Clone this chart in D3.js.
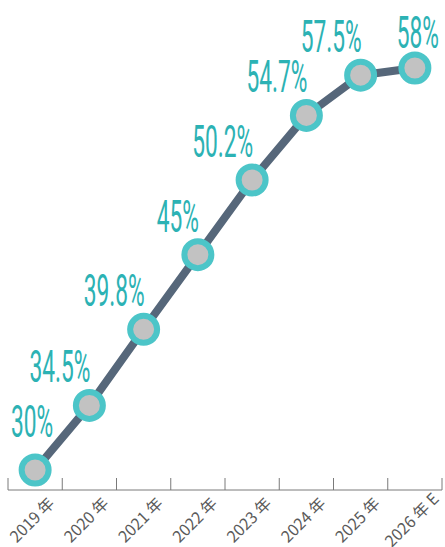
<!DOCTYPE html>
<html>
<head>
<meta charset="utf-8">
<script src="https://cdn.jsdelivr.net/npm/d3@7"></script>
<style>
  html, body { margin: 0; padding: 0; background: #fff; }
  svg { display: block; }
</style>
</head>
<body>
<svg id="chart" width="445" height="547"></svg>
<script>
const years = ["2019 年", "2020 年", "2021 年", "2022 年", "2023 年", "2024 年", "2025 年", "2026 年 E"];
const values = [30, 34.5, 39.8, 45, 50.2, 54.7, 57.5, 58];
const valueLabels = ["30%", "34.5%", "39.8%", "45%", "50.2%", "54.7%", "57.5%", "58%"];

const svg = d3.select("#chart");
const x = d3.scaleBand().domain(years).range([8, 442]).padding(0);
const y = d3.scaleLinear().domain([30, 58]).range([470, 68]);
const cx = d => x(d) + x.bandwidth() / 2;
const axisY = 490;

// axis line and boundary ticks
const axisG = svg.append("g").attr("class", "axis");
axisG.append("line")
  .attr("x1", x.range()[0]).attr("x2", x.range()[1])
  .attr("y1", axisY).attr("y2", axisY)
  .attr("stroke", "#7a7a7a").attr("stroke-width", 1);
const bounds = years.map(d => x(d)).concat([x.range()[1]]);
axisG.selectAll("line.tick").data(bounds).join("line")
  .attr("class", "tick")
  .attr("x1", d => d).attr("x2", d => d)
  .attr("y1", axisY - 12).attr("y2", axisY)
  .attr("stroke", "#7a7a7a").attr("stroke-width", 1);

axisG.selectAll("text.year").data(years).join("text")
  .attr("class", "year")
  .attr("text-anchor", "middle")
  .attr("transform", d => `translate(${cx(d) + 1},${axisY + 34}) rotate(-45)`)
  .attr("font-family", "'Noto Sans CJK SC', 'Noto Sans', sans-serif")
  .attr("font-size", 16)
  .attr("font-weight", 400)
  .attr("fill", "#5a5a5a")
  .text(d => d);

// line
const pts = years.map((d, i) => [cx(d), y(values[i])]);
svg.append("path")
  .attr("d", d3.line()(pts))
  .attr("fill", "none")
  .attr("stroke", "#56677a")
  .attr("stroke-width", 8)
  .attr("stroke-linejoin", "round");

// markers
svg.selectAll("circle.pt").data(pts).join("circle")
  .attr("class", "pt")
  .attr("cx", d => d[0]).attr("cy", d => d[1])
  .attr("r", 13.5)
  .attr("fill", "#c2c2c2")
  .attr("stroke", "#4cc5c8")
  .attr("stroke-width", 6);

// value labels (tall condensed look: horizontally squeezed font)
const n = years.length;
const labelFont = "Roboto, 'Liberation Sans', sans-serif";
const labelSize = 45;
const probe = svg.append("text")
  .attr("font-family", labelFont).attr("font-size", labelSize).attr("font-weight", 400)
  .text(valueLabels[1]);
const probeW = probe.node().getComputedTextLength();
probe.remove();
const squeeze = 61 / probeW;

svg.selectAll("text.val").data(valueLabels).join("text")
  .attr("class", "val")
  .attr("text-anchor", (d, i) => (i === 0 || i === n - 1) ? "middle" : "end")
  .attr("transform", (d, i) => {
    const px = pts[i][0], py = pts[i][1];
    let tx, ty;
    if (i === 0) { tx = px - 3; ty = py - 33; }
    else if (i === n - 1) { tx = px + 3; ty = py - 20; }
    else { tx = px + 1; ty = py - 23; }
    return `translate(${tx},${ty}) scale(${squeeze},1)`;
  })
  .attr("font-family", labelFont)
  .attr("font-size", labelSize)
  .attr("font-weight", 400)
  .attr("fill", "#2cb2b4")
  .text(d => d);
</script>
</body>
</html>
